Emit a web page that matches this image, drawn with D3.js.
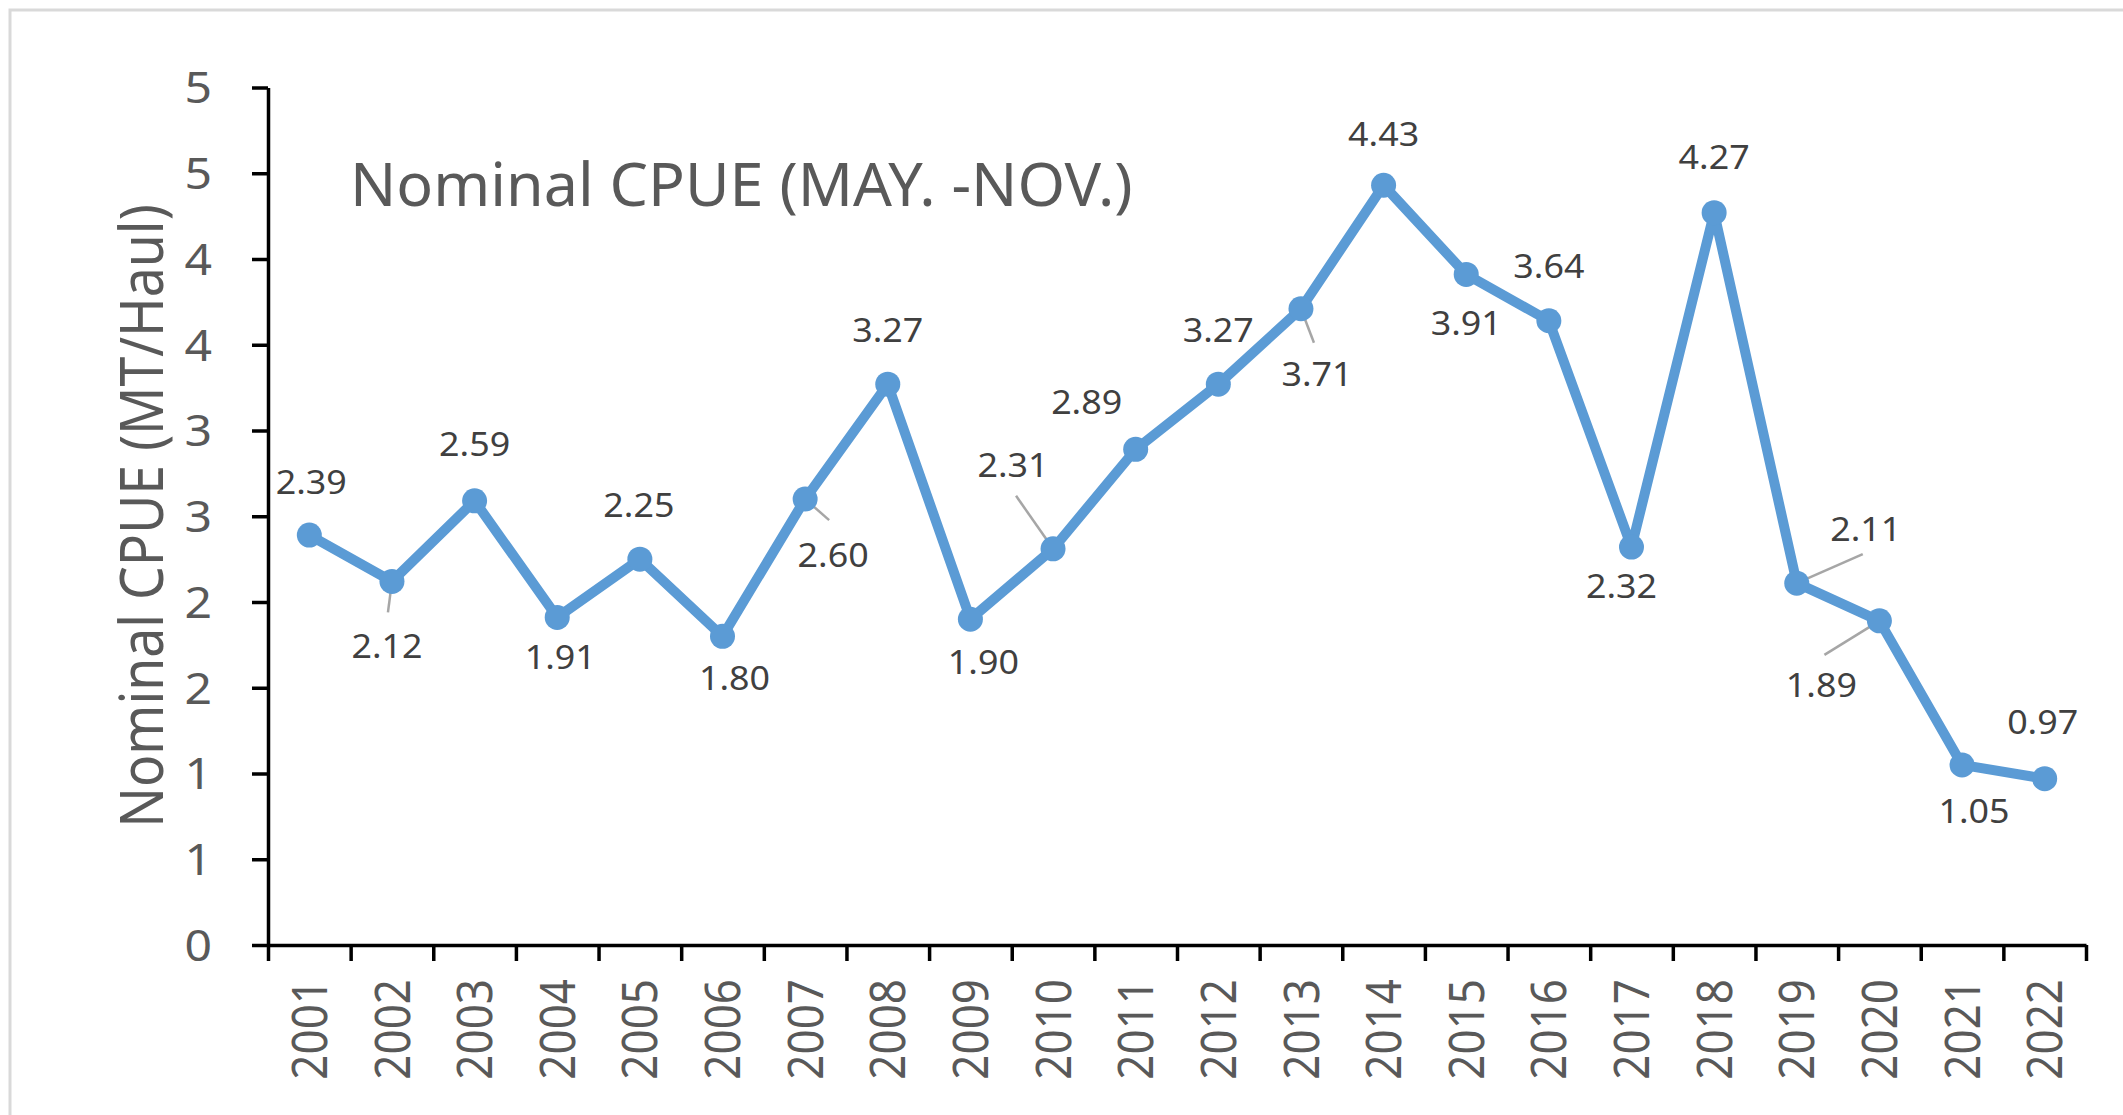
<!DOCTYPE html>
<html>
<head>
<meta charset="utf-8">
<script src="https://cdn.jsdelivr.net/npm/d3@7"></script>
<style>
  html, body { margin: 0; padding: 0; background: #ffffff; }
  svg { display: block; }
  text { font-family: "Noto Sans", "Open Sans", sans-serif; }
</style>
</head>
<body>
<svg id="chart" width="2123" height="1115"></svg>
<script>
// ---------------- data ----------------
const years = ["2001","2002","2003","2004","2005","2006","2007","2008","2009","2010","2011",
               "2012","2013","2014","2015","2016","2017","2018","2019","2020","2021","2022"];
const cpue = [2.39, 2.12, 2.59, 1.91, 2.25, 1.80, 2.60, 3.27, 1.90, 2.31, 2.89,
              3.27, 3.71, 4.43, 3.91, 3.64, 2.32, 4.27, 2.11, 1.89, 1.05, 0.97];
const yTickValues = [0, 0.5, 1, 1.5, 2, 2.5, 3, 3.5, 4, 4.5, 5];
const yTickLabels = ["0", "1", "1", "2", "2", "3", "3", "4", "4", "5", "5"];
const chartTitle = "Nominal CPUE (MAY. -NOV.)";
const yAxisTitle = "Nominal CPUE (MT/Haul)";

// ---------------- layout (label placement, px offsets from the point) ----------------
const labelOffsets = [
  [2,-53],[-5,65],[0,-56],[3,40],[-1,-54],[12,42],[28,56],[0,-54],[13,43],[-40,-83],[-49,-47],
  [0,-54],[16,66],[0,-51],[0,49],[0,-54],[-10,39],[0,-55],[69,-54],[-58,65],[12,47],[-2,-56]
];
const leaderEnds = { 1:[-4,31], 6:[24,21], 9:[-37,-53], 12:[13,34], 18:[66,-29], 19:[-55,34] };

// ---------------- drawing ----------------
const svg = d3.select("#chart");
const W = 2123, H = 1115;
const plot = { left: 268, right: 2086, top: 87.5, bottom: 945 };
const SX = 1.12; // horizontal text stretch of the original

svg.append("rect").attr("width", W).attr("height", H).attr("fill", "#ffffff");
svg.append("rect")
  .attr("x", 10).attr("y", 10).attr("width", W + 20).attr("height", H + 20)
  .attr("fill", "none").attr("stroke", "#d9d9d9").attr("stroke-width", 3);

const x = d3.scaleBand().domain(years).range([plot.left, plot.right]).padding(0);
const xb = d3.scaleLinear().domain([0, years.length]).range([plot.left, plot.right]);
const y = d3.scaleLinear().domain([0, 5]).range([plot.bottom, plot.top]);
const cx = d => x(d) + x.bandwidth() / 2;

const axisColor = "#000000";
const textGrey = "#595959";

// Y axis
const yAxis = d3.axisLeft(y).tickValues(yTickValues).tickSize(16).tickSizeOuter(0)
  .tickFormat((d, i) => yTickLabels[i]);
const gy = svg.append("g").attr("transform", `translate(${plot.left},0)`).call(yAxis);
gy.select(".domain").attr("stroke", axisColor).attr("stroke-width", 3.5);
gy.selectAll(".tick line").attr("stroke", axisColor).attr("stroke-width", 3.5);
gy.selectAll(".tick text")
  .attr("x", null).attr("dy", null)
  .attr("transform", `translate(-56,0) scale(${SX},1)`)
  .attr("text-anchor", "end")
  .attr("dy", "0.357em")
  .attr("fill", textGrey)
  .style("font-size", "43px")
  .style("font-family", "'Noto Sans', sans-serif");

// X axis (ticks between categories)
const xAxisTicks = d3.axisBottom(xb).tickValues(d3.range(years.length + 1)).tickSize(16)
  .tickSizeOuter(0).tickFormat("");
const gx = svg.append("g").attr("transform", `translate(0,${plot.bottom})`).call(xAxisTicks);
gx.select(".domain").attr("stroke", axisColor).attr("stroke-width", 3.5);
gx.selectAll(".tick line").attr("stroke", axisColor).attr("stroke-width", 3.5);

const xAxisLabels = d3.axisBottom(x).tickSize(0).tickSizeOuter(0);
const gxl = svg.append("g").attr("transform", `translate(0,${plot.bottom})`).call(xAxisLabels);
gxl.select(".domain").remove();
gxl.selectAll(".tick text")
  .attr("y", null).attr("dy", null)
  .attr("transform", `translate(0,34) rotate(-90) scale(1,${SX})`)
  .attr("text-anchor", "end")
  .attr("dy", "0.357em")
  .attr("fill", textGrey)
  .style("font-size", "44px")
  .style("font-family", "'Noto Sans', sans-serif");

// Y axis title
svg.append("text")
  .attr("transform", `translate(142,516) rotate(-90) scale(1,${SX})`)
  .attr("text-anchor", "middle")
  .attr("dy", "0.357em")
  .attr("fill", textGrey)
  .style("font-size", "53.5px")
  .text(yAxisTitle);

// Chart title
svg.append("text")
  .attr("x", 350).attr("y", 206)
  .attr("fill", textGrey)
  .style("font-size", "61px")
  .text(chartTitle);

// Leader lines
const leaderData = Object.keys(leaderEnds).map(k => +k);
svg.append("g").selectAll("line").data(leaderData).join("line")
  .attr("x1", i => cx(years[i])).attr("y1", i => y(cpue[i]))
  .attr("x2", i => cx(years[i]) + leaderEnds[i][0])
  .attr("y2", i => y(cpue[i]) + leaderEnds[i][1])
  .attr("stroke", "#a6a6a6").attr("stroke-width", 2.5);

// Line
const lineColor = "#5B9BD5";
const line = d3.line().x((d, i) => cx(years[i])).y(d => y(d));
svg.append("path").datum(cpue)
  .attr("d", line).attr("fill", "none")
  .attr("stroke", lineColor).attr("stroke-width", 10)
  .attr("stroke-linejoin", "round").attr("stroke-linecap", "round");

// Markers
svg.append("g").selectAll("circle").data(cpue).join("circle")
  .attr("cx", (d, i) => cx(years[i])).attr("cy", d => y(d))
  .attr("r", 12.5).attr("fill", lineColor);

// Data labels
const fmt = d3.format(".2f");
svg.append("g").selectAll("text").data(cpue).join("text")
  .attr("transform", (d, i) =>
    `translate(${cx(years[i]) + labelOffsets[i][0]},${y(d) + labelOffsets[i][1]}) scale(${SX},1)`)
  .attr("text-anchor", "middle")
  .attr("dy", "0.357em")
  .attr("fill", "#404040")
  .style("font-size", "32px")
  .text(d => fmt(d));
</script>
</body>
</html>
